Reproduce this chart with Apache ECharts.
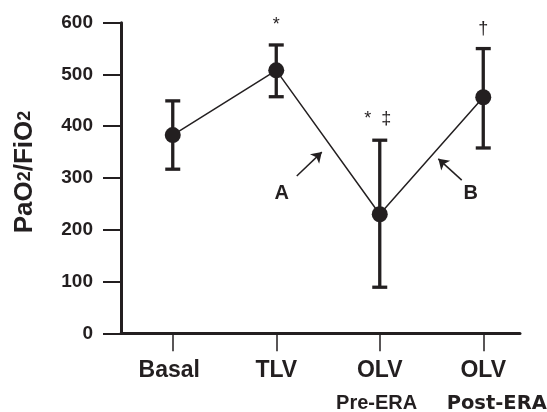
<!DOCTYPE html>
<html>
<head>
<meta charset="utf-8">
<script src="https://cdn.jsdelivr.net/npm/echarts@6/dist/echarts.min.js"></script>
<style>html,body{margin:0;padding:0;background:#fff}#c{width:547px;height:412px}</style>
</head>
<body>
<div id="c"></div>
<script>
// ---- data ----
const categories = ['Basal', 'TLV', 'OLV', 'OLV'];
const positions = [1, 2, 3, 4];
const subLabels = ['Pre-ERA', 'Post-ERA'];
const subLabelPos = [2.97, 4.13];
const means = [383, 508, 230, 456];
const lows = [317, 457, 89, 358];
const highs = [449, 557, 373, 550];
const yTicks = [0, 100, 200, 300, 400, 500, 600];
const sigTexts = ['*', '*  \u2021', '\u2020'];
const sigX = [2.0, 2.98, 4.0];
const sigY = [595, 414, 587];
const letterTexts = ['A', 'B'];
const letterX = [2.053, 3.88];
const letterY = [270, 271];
const arrowFrom = [[2.198, 304], [3.792, 296]];
const arrowTo = [[2.44, 350], [3.566, 337]];

const INK = '#231f20';
const FF = 'Liberation Sans';

const chart = echarts.init(document.getElementById('c'), null, {renderer: 'canvas'});

const lineData = positions.map((p, i) => [p, means[i]]);
const errData = positions.map((p, i) => [p, lows[i], highs[i]]);
const sigData = sigTexts.map((t, i) => [sigX[i], sigY[i], t]);
const letterData = letterTexts.map((t, i) => [letterX[i], letterY[i], t]);

const X_MIN = 0.5, X_MAX = 4.355;

const option = {
  animation: false,
  backgroundColor: '#fff',
  grid: {left: 121, right: 27, top: 22.7, bottom: 78.7, containLabel: false, outerBoundsMode: 'none'},
  xAxis: [{
    type: 'value',
    min: X_MIN,
    max: X_MAX,
    splitLine: {show: false},
    axisLine: {onZero: false, lineStyle: {color: INK, width: 3}},
    axisTick: {show: true, customValues: positions, length: 18, lineStyle: {color: INK, width: 1.5}},
    axisLabel: {
      show: true,
      customValues: positions,
      showMinLabel: true,
      showMaxLabel: true,
      hideOverlap: false,
      margin: 20,
      color: INK,
      formatter: function (v) {
        const i = positions.indexOf(v);
        if (i < 0) return '';
        return '{' + (i === 0 ? 'basal' : 'm') + '|' + categories[i] + '}';
      },
      rich: {
        m: {fontSize: 23, fontWeight: 'bold', fontFamily: FF, color: INK, lineHeight: 34},
        basal: {fontSize: 23, fontWeight: 'bold', fontFamily: FF, color: INK, lineHeight: 34, padding: [0, 7, 0, 0]}
      }
    }
  }, {
    type: 'value',
    position: 'bottom',
    gridIndex: 0,
    min: X_MIN,
    max: X_MAX,
    splitLine: {show: false},
    axisLine: {show: false, onZero: false},
    axisTick: {show: false},
    axisLabel: {
      show: true,
      customValues: subLabelPos,
      showMinLabel: true,
      showMaxLabel: true,
      hideOverlap: false,
      margin: 60.5,
      color: INK,
      formatter: function (v) {
        const i = subLabelPos.indexOf(v);
        if (i < 0) return '';
        return '{' + (i === 0 ? 'pre' : 'post') + '|' + subLabels[i] + '}';
      },
      rich: {
        pre: {fontSize: 20, fontWeight: 'bold', fontFamily: FF, color: INK, lineHeight: 20},
        post: {fontSize: 19.5, fontWeight: 'bold', fontFamily: 'DejaVu Sans', color: INK, lineHeight: 20}
      }
    }
  }],
  yAxis: {
    type: 'value',
    min: 0,
    max: 600,
    interval: 100,
    splitLine: {show: false},
    axisLine: {show: true, onZero: false, lineStyle: {color: INK, width: 3}},
    axisTick: {show: true, length: 18, lineStyle: {color: INK, width: 2}},
    axisLabel: {
      margin: 28, color: INK, fontSize: 19, fontWeight: 'bold', fontFamily: FF,
      formatter: v => (yTicks.indexOf(v) >= 0 ? String(v) : '')
    },
    name: '{b|PaO}{s|2}{b|/FiO}{s|2}',
    nameLocation: 'middle',
    nameGap: 83,
    nameRotate: 90,
    nameTextStyle: {
      padding: [0, 0, 0, 12],
      rich: {
        b: {fontSize: 26, fontWeight: 'bold', fontFamily: FF, color: INK},
        s: {fontSize: 18, fontWeight: 'bold', fontFamily: FF, color: INK}
      }
    }
  },
  series: [
    {
      type: 'custom',
      z: 3,
      silent: true,
      data: errData,
      renderItem: function (params, api) {
        const x = api.value(0);
        const lo = api.coord([x, api.value(1)]);
        const hi = api.coord([x, api.value(2)]);
        const hw = 7.5;
        const st = {stroke: INK, lineWidth: 3.3};
        return {
          type: 'group',
          children: [
            {type: 'line', shape: {x1: lo[0], y1: lo[1], x2: hi[0], y2: hi[1]}, style: st},
            {type: 'line', shape: {x1: lo[0] - hw, y1: lo[1], x2: lo[0] + hw, y2: lo[1]}, style: {stroke: INK, lineWidth: 3.3}},
            {type: 'line', shape: {x1: hi[0] - hw, y1: hi[1], x2: hi[0] + hw, y2: hi[1]}, style: {stroke: INK, lineWidth: 3.3}}
          ]
        };
      }
    },
    {
      type: 'line',
      z: 4,
      silent: true,
      data: lineData,
      symbol: 'circle',
      symbolSize: 16,
      itemStyle: {color: INK},
      lineStyle: {color: INK, width: 1.5}
    },
    {
      type: 'scatter',
      z: 5,
      silent: true,
      data: sigData,
      symbol: 'circle',
      symbolSize: 1,
      itemStyle: {color: 'rgba(0,0,0,0)', opacity: 1},
      label: {
        show: true, position: 'inside', formatter: p => p.data[2],
        fontSize: 18, fontWeight: 'normal', fontFamily: FF, color: INK, opacity: 1
      }
    },
    {
      type: 'scatter',
      z: 5,
      silent: true,
      data: letterData,
      symbol: 'circle',
      symbolSize: 1,
      itemStyle: {color: 'rgba(0,0,0,0)', opacity: 1},
      label: {
        show: true, position: 'inside', formatter: p => p.data[2],
        fontSize: 20, fontWeight: 'bold', fontFamily: FF, color: INK, opacity: 1
      },
      markLine: {
        silent: true,
        symbol: ['none', 'arrow'],
        symbolSize: 10,
        label: {show: false},
        lineStyle: {color: INK, width: 1.5, type: 'solid', opacity: 1},
        data: arrowFrom.map((f, i) => [{coord: f}, {coord: arrowTo[i]}])
      }
    }
  ]
};
chart.setOption(option);
</script>
</body>
</html>
